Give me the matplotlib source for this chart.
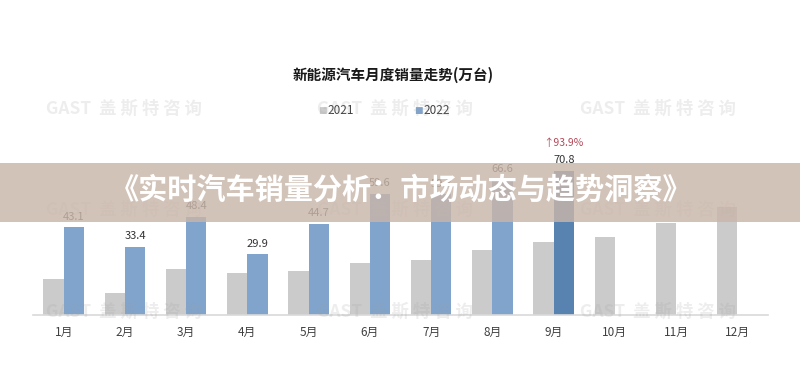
import matplotlib
matplotlib.use("Agg")
import matplotlib.pyplot as plt
import numpy as np
from matplotlib.patches import Rectangle

plt.rcParams['font.family'] = ['Noto Sans CJK SC', 'DejaVu Sans']

months = ["1月", "2月", "3月", "4月", "5月", "6月", "7月", "8月", "9月", "10月", "11月", "12月"]
sales_2021 = [17.9, 11.0, 22.6, 20.6, 21.7, 25.6, 27.1, 32.1, 35.7, 38.3, 45.0, 53.1]
sales_2022 = [43.1, 33.4, 48.4, 29.9, 44.7, 59.6, 59.3, 66.6, 70.8]
series_names = ["2021", "2022"]
chart_title = "新能源汽车月度销量走势(万台)"
growth_label = "↑93.9%"
banner_title = "《实时汽车销量分析：市场动态与趋势洞察》"
watermark = "GAST  盖 斯 特 咨 询"

c_gray = "#CBCBCB"
c_blue = "#80A4CC"
c_blue_hi = "#5883B0"

W, H = 800, 386
fig = plt.figure(figsize=(W / 100, H / 100), dpi=100)
fig.patch.set_facecolor("white")

px_per_unit = 2.035
ymax = 80
ax = fig.add_axes([33 / W, 71 / H, 735 / W, ymax * px_per_unit / H])
ax.set_xlim(-0.5, 11.5)
ax.set_ylim(0, ymax)

x = np.arange(len(months))
bw = 0.33
ax.bar(x - bw / 2, sales_2021, width=bw, color=c_gray, zorder=2)
x22 = np.arange(len(sales_2022))
cols = [c_blue] * len(sales_2022)
cols[-1] = c_blue_hi
ax.bar(x22 + bw / 2, sales_2022, width=bw, color=cols, zorder=2)

for xi, v in zip(x22, sales_2022):
    ax.annotate(f"{v:.1f}", (xi + bw / 2, v), xytext=(0, 4), textcoords="offset points",
                ha="center", va="bottom", fontsize=8, color="#333333")
ax.annotate(growth_label, (x22[-1] + bw / 2, sales_2022[-1]), xytext=(0, 16.5),
            textcoords="offset points", ha="center", va="bottom", fontsize=7.5,
            color="#B24A5A")

for s in ["top", "right", "left"]:
    ax.spines[s].set_visible(False)
ax.spines["bottom"].set_color("#D9D9D9")
ax.spines["bottom"].set_linewidth(1.2)
ax.set_yticks([])
ax.set_xticks(x)
ax.set_xticklabels(months, fontsize=8.5, color="#404040")
ax.tick_params(axis="x", length=0, pad=8)

fig.text(393 / W, 1 - 75 / H, chart_title, ha="center", va="center",
         fontsize=10.5, fontweight="bold", color="#1A1A1A")

# legend
fig.text(318 / W, 1 - 111 / H, "■", ha="left", va="center", fontsize=6.5, color=c_gray,
         family=['DejaVu Sans'])
fig.text(327 / W, 1 - 111 / H, series_names[0], ha="left", va="center", fontsize=8.5,
         color="#404040")
fig.text(414 / W, 1 - 111 / H, "■", ha="left", va="center", fontsize=6.5, color=c_blue,
         family=['DejaVu Sans'])
fig.text(423 / W, 1 - 111 / H, series_names[1], ha="left", va="center", fontsize=8.5,
         color="#404040")

# watermarks
for wx in [124, 395, 658]:
    for wy in [109, 210, 312]:
        fig.text(wx / W, 1 - wy / H, watermark, ha="center", va="center", fontsize=12.5,
                 fontweight="bold", color="#A0A0A0", alpha=0.18, zorder=5)

# banner
fig.patches.append(Rectangle((0, 1 - 222 / H), 1, 59 / H, transform=fig.transFigure,
                             facecolor="#C9B6AA", alpha=0.82, edgecolor="none", zorder=10))
fig.text(401 / W, 1 - 190 / H, banner_title, ha="center", va="center", fontsize=21,
         fontweight="heavy", color="white", zorder=11)

fig.savefig("out.png", dpi=100)
